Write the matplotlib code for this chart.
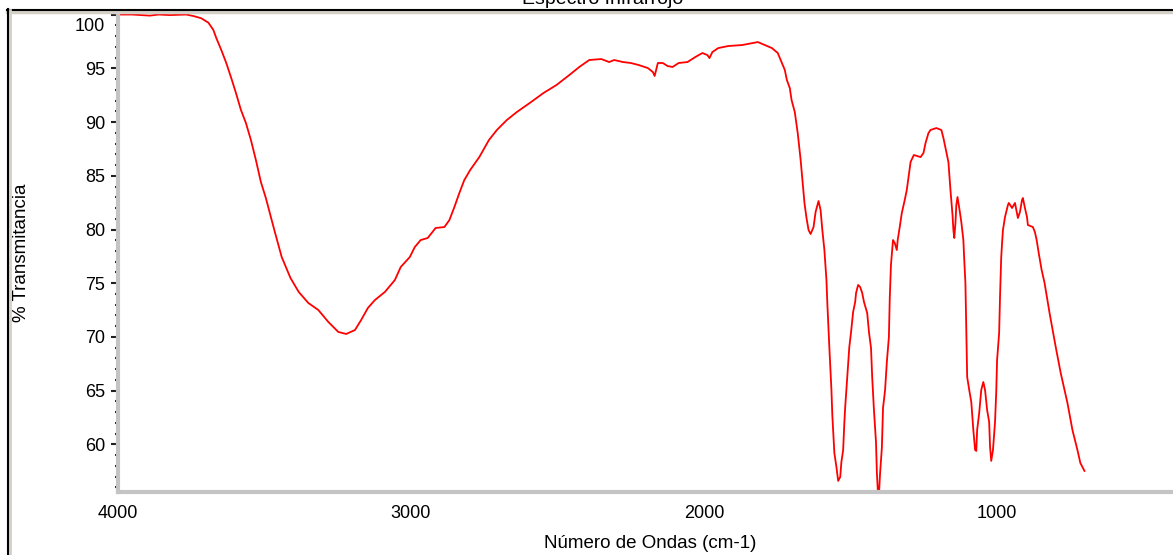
import matplotlib.pyplot as plt
from matplotlib.lines import Line2D
from matplotlib.transforms import ScaledTranslation

# values
wavenumber = [
    4000, 3950, 3890, 3860, 3822, 3765, 3741, 3714, 3690, 3673,
    3663, 3646, 3629, 3612, 3596, 3579, 3562, 3545, 3528, 3511,
    3494, 3467, 3440, 3410, 3382, 3349, 3315, 3281, 3247, 3220,
    3190, 3169, 3146, 3122, 3088, 3054, 3034, 3003, 2986, 2966,
    2942, 2915, 2885, 2868, 2851, 2834, 2817, 2797, 2766, 2733,
    2706, 2672, 2638, 2594, 2547, 2503, 2459, 2425, 2391, 2350,
    2323, 2306, 2276, 2249, 2222, 2191, 2174, 2168, 2157, 2140,
    2124, 2107, 2086, 2056, 2029, 2005, 1988, 1981, 1971, 1951,
    1917, 1870, 1816, 1792, 1768, 1748, 1734, 1724, 1717, 1707,
    1701, 1690, 1680, 1670, 1663, 1657, 1650, 1643, 1636, 1626,
    1619, 1609, 1602, 1596, 1589, 1582, 1579, 1572, 1565, 1562,
    1555, 1548, 1542, 1535, 1531, 1525, 1521, 1518, 1511, 1504,
    1498, 1491, 1484, 1481, 1474, 1467, 1460, 1454, 1443, 1437,
    1430, 1426, 1420, 1413, 1410, 1406, 1403, 1399, 1393, 1389,
    1382, 1376, 1369, 1366, 1362, 1355, 1349, 1342, 1339, 1332,
    1325, 1315, 1308, 1301, 1295, 1284, 1261, 1251, 1244, 1234,
    1227, 1207, 1190, 1183, 1173, 1166, 1159, 1152, 1149, 1146,
    1142, 1139, 1135, 1129, 1122, 1115, 1112, 1108, 1105, 1102,
    1095, 1088, 1081, 1075, 1071, 1068, 1061, 1054, 1047, 1041,
    1034, 1027, 1024, 1020, 1014, 1007, 1003, 1000, 993, 990,
    986, 983, 980, 973, 963, 960, 949, 939, 929, 922,
    915, 912, 905, 898, 895, 878, 871, 865, 858, 848,
    838, 821, 800, 783, 760, 743, 726, 716, 702,
]
transmittance = [
    100.0, 100.0, 99.9, 100.0, 99.95, 100.0, 99.86, 99.65, 99.24, 98.56,
    97.81, 96.70, 95.49, 94.09, 92.70, 91.12, 89.91, 88.33, 86.47, 84.42,
    82.93, 80.14, 77.44, 75.49, 74.19, 73.16, 72.51, 71.40, 70.47, 70.28,
    70.65, 71.58, 72.70, 73.44, 74.19, 75.30, 76.51, 77.44, 78.37, 79.02,
    79.21, 80.14, 80.23, 80.88, 82.09, 83.40, 84.61, 85.54, 86.74, 88.33,
    89.26, 90.19, 90.93, 91.77, 92.70, 93.44, 94.37, 95.12, 95.77, 95.86,
    95.58, 95.77, 95.58, 95.49, 95.30, 95.02, 94.65, 94.28, 95.49, 95.49,
    95.21, 95.12, 95.49, 95.58, 96.05, 96.42, 96.23, 95.95, 96.51, 96.88,
    97.07, 97.16, 97.44, 97.16, 96.88, 96.42, 95.49, 94.84, 93.91, 93.16,
    92.05, 90.93, 88.98, 86.47, 84.33, 82.47, 81.07, 79.95, 79.58, 80.23,
    81.63, 82.65, 81.81, 79.95, 78.09, 75.30, 73.16, 68.98, 65.07, 62.75,
    59.21, 57.91, 56.61, 56.98, 58.37, 59.49, 62.00, 63.49, 66.28, 69.07,
    70.47, 72.33, 73.26, 74.09, 74.84, 74.65, 74.09, 73.26, 72.23, 70.47,
    68.98, 66.28, 63.21, 60.23, 57.35, 55.3, 55.3, 57.35, 59.68, 63.40,
    65.07, 67.67, 70.00, 73.63, 76.70, 79.02, 78.74, 78.09, 79.02, 80.23,
    81.53, 82.74, 83.67, 85.07, 86.28, 86.93, 86.74, 87.12, 88.05, 88.98,
    89.26, 89.44, 89.26, 88.51, 87.21, 86.28, 83.67, 81.35, 79.95, 79.21,
    80.61, 82.28, 83.02, 82.00, 80.70, 79.02, 77.16, 75.02, 70.37, 66.28,
    65.07, 63.95, 61.35, 59.49, 59.40, 61.35, 62.93, 65.07, 65.81, 65.07,
    63.21, 62.09, 59.77, 58.47, 59.49, 62.09, 64.79, 67.86, 70.37, 73.72,
    77.35, 78.74, 79.95, 81.16, 82.28, 82.47, 82.00, 82.47, 81.07, 81.63,
    82.74, 82.93, 82.00, 81.16, 80.42, 80.23, 79.77, 79.02, 77.81, 76.23,
    75.02, 72.23, 69.07, 66.65, 63.86, 61.35, 59.49, 58.28, 57.54,
]

x_ticks = [4000, 3000, 2000, 1000]
y_ticks = [60, 65, 70, 75, 80, 85, 90, 95, 100]

plt.rcParams["font.family"] = ["Liberation Sans", "DejaVu Sans"]

W, H = 1173, 555
left_px, bottom_px, top_px = 117.5, 492.3, 14
fig = plt.figure(figsize=(W / 100, H / 100), dpi=100)
ax = fig.add_axes([left_px / W, 1 - bottom_px / H, 1 - left_px / W, (bottom_px - top_px) / H])

ax.plot(wavenumber, transmittance, "-", color="#ff0000", linewidth=1.3)

ax.set_xlim(4000, 428)
ax.set_ylim(55.55, 100.05)

# window style axes: grey bars for spines, no top/right
ax.spines["top"].set_visible(False)
ax.spines["right"].set_visible(False)
for side in ("left", "bottom"):
    ax.spines[side].set_color("#c4c4c4")
    ax.spines[side].set_linewidth(3)

ax.set_xticks(x_ticks)
ax.set_xticks(range(400, 4001, 200), minor=True)
ax.set_yticks(y_ticks, [str(v) for v in y_ticks])
ax.set_yticks(range(56, 101), minor=True)

ax.tick_params(axis="y", which="major", direction="out", length=5, width=1.5,
               color="#202020", labelsize=13, pad=4)
ax.tick_params(axis="y", which="minor", direction="out", length=2.5, width=1.5,
               color="#202020")
ax.tick_params(axis="x", which="major", direction="inout", length=3, width=1.5,
               color="#202020", labelsize=13, pad=8)
ax.tick_params(axis="x", which="minor", direction="inout", length=1.5, width=1.5,
               color="#404040")

# the "100" label sits a little below its tick in the original
offset = ScaledTranslation(0, -9.5 / 100, fig.dpi_scale_trans)
for label in ax.get_yticklabels():
    if label.get_text() == "100":
        label.set_transform(label.get_transform() + offset)

plot_w = W - left_px
plot_h = bottom_px - top_px
ax.set_xlabel("Número de Ondas (cm-1)", fontsize=13.5)
ax.xaxis.set_label_coords((650 - left_px) / plot_w, -(535 - bottom_px) / plot_h)
ax.set_ylabel("% Transmitancia", fontsize=13.5)
ax.yaxis.set_label_coords(-(left_px - 30) / plot_w, (bottom_px - 253) / plot_h)

fig.text(0.514, 1 - 4 / H, "Espectro Infrarrojo", ha="center", va="baseline", fontsize=14)

# window frame lines
fig.add_artist(Line2D([7 / W, 1], [1 - 11.5 / H, 1 - 11.5 / H], color="#d4d0c8", linewidth=2.5))
fig.add_artist(Line2D([7 / W, 1], [1 - 9.5 / H, 1 - 9.5 / H], color="black", linewidth=1.5))
fig.add_artist(Line2D([9.5 / W, 9.5 / W], [0, 1 - 10 / H], color="#d4d0c8", linewidth=2))
fig.add_artist(Line2D([7.5 / W, 7.5 / W], [0, 1 - 9 / H], color="black", linewidth=1.5))

plt.savefig("out.png", dpi=100)
plt.close()
